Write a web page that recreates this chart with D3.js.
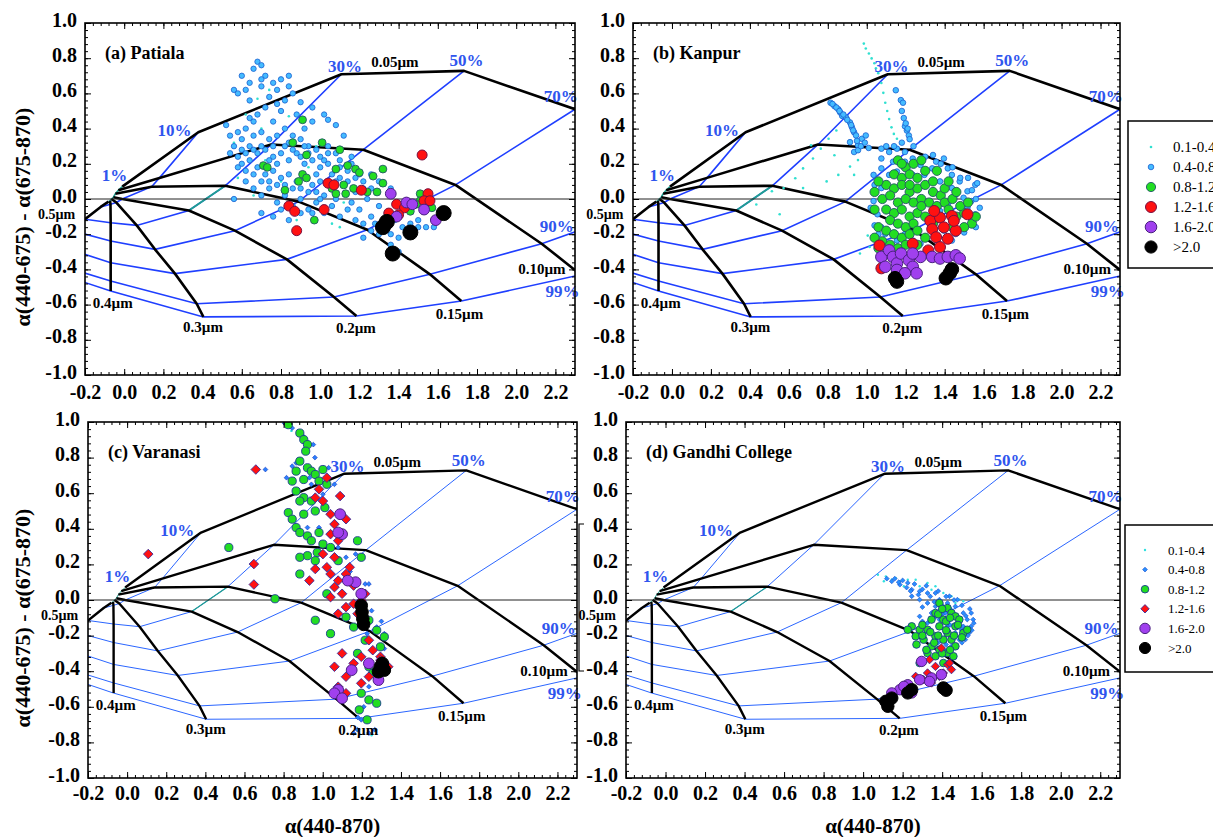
<!DOCTYPE html>
<html>
<head>
<meta charset="utf-8">
<script src="https://cdn.jsdelivr.net/npm/d3@7"></script>
<style>
body { margin: 0; background: #fff; }
</style>
</head>
<body>
<div id="chart"></div>
<script>
// ---- AOD bins (legend) ----
var aodBins = ["0.1-0.4", "0.4-0.8", "0.8-1.2", "1.2-1.6", "1.6-2.0", ">2.0"];

// ---- tick values ----
var xMajor = [-0.2, 0, 0.2, 0.4, 0.6, 0.8, 1.0, 1.2, 1.4, 1.6, 1.8, 2.0, 2.2];
var yMajor = [-1.0, -0.8, -0.6, -0.4, -0.2, 0, 0.2, 0.4, 0.6, 0.8, 1.0];

// ---- classification grid (fine mode radius x fine mode fraction) ----
var radii = ["0.05", "0.10", "0.15", "0.2", "0.3", "0.4", "0.5"];
var fractions = [1, 10, 30, 50, 70, 90, 99];
var gridAlpha = [
  [-0.01, 0.378, 1.108, 1.734, 2.30, 2.90, 3.20],
  [-0.03, 0.18, 0.75, 1.22, 1.69, 2.13, 2.33],
  [-0.045, 0.14, 0.515, 0.89, 1.24, 1.56, 1.72],
  [-0.055, -0.01, 0.33, 0.565, 0.83, 1.07, 1.185],
  [-0.065, -0.04, 0.064, 0.157, 0.259, 0.37, 0.404],
  [-0.072, -0.07, -0.069, -0.069, -0.069, -0.069, -0.069],
  [-0.08, -0.12, -0.2, -0.3, -0.35, -0.38, -0.40]
];
var gridDelta = [
  [0.07, 0.379, 0.709, 0.728, 0.51, 0.05, -0.10],
  [0.05, 0.12, 0.31, 0.28, 0.08, -0.254, -0.43],
  [0.03, 0.07, 0.075, -0.015, -0.175, -0.428, -0.58],
  [0.01, 0.0, -0.065, -0.18, -0.343, -0.557, -0.665],
  [0.0, -0.02, -0.15, -0.286, -0.424, -0.595, -0.67],
  [-0.01, -0.03, -0.135, -0.239, -0.362, -0.466, -0.523],
  [-0.015, -0.045, -0.115, -0.17, -0.26, -0.36, -0.40]
];
var gridLabels = [
  ["1%", -0.115, 0.10, "pct"], ["10%", 0.17, 0.36, "pct"], ["30%", 1.04, 0.72, "pct"],
  ["0.05µm", 1.26, 0.75, "um"], ["50%", 1.66, 0.755, "pct"], ["70%", 2.14, 0.55, "pct"],
  ["90%", 2.12, -0.19, "pct"], ["0.10µm", 2.01, -0.425, "um"], ["99%", 2.15, -0.555, "pct"],
  ["0.15µm", 1.59, -0.68, "um"], ["0.2µm", 1.08, -0.76, "um"], ["0.3µm", 0.30, -0.755, "um"],
  ["0.4µm", -0.16, -0.62, "um"], ["0.5µm", -0.44, -0.115, "um"]
];

// ---- (a) Patiala : [alpha(440-870), d-alpha] ----
var patialaBin1 = [[0.62,0.48],[0.68,0.57],[0.84,0.47],[0.72,0.22],[0.88,-0.12],[1.06,-0.14],[0.58,0.12],[0.66,0.02],[0.98,0.30],[0.74,0.62],[0.56,0.32],[1.12,-0.02],[0.80,0.10],[0.94,0.18],[0.70,0.40],[1.10,-0.16]];
var patialaBin2 = [[0.68,0.78],[0.70,0.76],[0.66,0.74],[0.72,0.70],[0.60,0.70],[0.64,0.66],[0.56,0.62],[0.58,0.60],[0.76,0.66],[0.80,0.68],[0.84,0.64],[0.78,0.62],[0.70,0.64],[0.74,0.58],[0.86,0.60],[0.90,0.55],[0.96,0.52],[1.02,0.48],[1.04,0.45],[0.82,0.56],[0.64,0.56],[0.72,0.52],[0.80,0.50],[0.88,0.48],
  [0.52,0.42],[0.54,0.36],[0.58,0.38],[0.62,0.40],[0.66,0.36],[0.70,0.38],[0.74,0.34],[0.78,0.36],[0.82,0.40],[0.86,0.36],[0.90,0.34],[0.94,0.30],[0.98,0.28],[1.04,0.30],[1.08,0.26],[0.56,0.30],[0.60,0.28],[0.64,0.30],[0.68,0.26],[0.72,0.28],[0.76,0.24],[0.80,0.26],[0.84,0.22],[0.88,0.26],[0.92,0.20],[0.96,0.22],[1.00,0.18],[1.04,0.20],[1.10,0.18],[1.14,0.16],
  [0.60,0.20],[0.64,0.22],[0.68,0.18],[0.72,0.14],[0.76,0.16],[0.80,0.12],[0.84,0.14],[0.88,0.10],[0.92,0.12],[0.96,0.08],[1.00,0.10],[1.06,0.06],[1.12,0.08],[1.18,0.04],[1.22,0.06],[0.62,0.10],[0.66,0.06],[0.70,0.02],[0.74,0.06],[0.78,-0.02],[0.82,0.02],[0.86,-0.04],[0.90,0.00],[0.94,-0.06],[0.98,-0.02],[1.02,-0.08],[1.06,-0.04],[1.10,-0.10],[1.16,-0.02],[1.20,-0.06],[1.24,0.00],
  [0.56,0.00],[0.70,-0.08],[0.84,-0.12],[1.26,-0.10],[1.30,-0.04],[1.34,-0.08],[1.38,-0.12],[1.42,-0.16],[1.46,-0.14],[1.50,-0.16],[1.54,-0.16],[1.58,-0.16],[1.40,-0.22],[1.36,-0.20],[1.32,-0.18],[1.28,-0.14],[1.22,-0.22],[1.18,-0.12],[1.44,-0.06],[1.48,-0.02],[1.52,0.02],[1.56,-0.04],[1.36,0.06],[1.30,0.10],[1.26,0.14],[1.20,0.14],[1.16,0.24],[1.12,0.36],[1.08,0.42],[0.96,0.44],[0.92,0.40],[1.36,-0.26],[1.40,-0.30],
  [0.54,0.26],[0.58,0.24],[0.62,0.26],[0.66,0.28],[0.70,0.30],[0.74,0.22],[0.78,0.20],[0.82,0.30],[0.86,0.28],[0.90,0.24],[0.94,0.26],[0.98,0.14],[1.02,0.22],[1.06,0.14],[1.10,0.12],[1.14,0.10],[1.18,0.12],[1.22,0.10],[1.26,0.06],[0.58,0.18],[0.62,0.16],[0.66,0.14],[0.70,0.10],[0.74,0.10],[0.78,0.08],[0.82,0.08],[0.86,0.06],[0.90,0.06],[0.94,0.04],[0.98,0.04],[1.02,0.02],[1.08,0.00],[1.14,-0.06],[1.22,-0.14],[1.30,-0.20],[1.26,-0.18],[0.64,0.46],[0.68,0.48],[0.76,0.44],[0.78,0.54],[0.62,0.62],[0.70,0.68],[0.84,0.70],[0.66,0.44],[0.60,0.34],[0.76,0.30],[0.84,0.32],[0.92,0.30],[1.00,0.24],[1.04,0.26],[1.10,0.22],[1.16,0.20],[1.08,0.10],[1.00,0.00],[0.96,-0.08],[0.90,-0.08],[0.80,-0.06],[0.76,-0.10],[1.44,-0.18],[1.50,-0.12],[1.58,-0.12]];
var patialaBin3 = [[0.91,0.45],[0.86,0.32],[1.01,0.32],[1.10,0.28],[0.71,0.19],[0.73,0.18],[0.93,0.25],[0.91,0.14],[0.93,0.12],[0.89,0.10],[0.82,0.05],[1.08,0.17],[1.14,0.19],[1.18,0.17],[1.20,0.15],[1.27,0.13],[1.32,0.17],[1.32,0.09],[1.06,0.06],[1.08,0.03],[1.12,0.08],[1.13,0.03],[1.17,0.06],[1.24,0.04],[1.29,0.04],[1.51,0.03],[1.51,-0.01],[1.49,-0.03],[1.57,-0.05],[0.97,-0.12],[1.46,-0.07]];
var patialaBin4 = [[1.52,0.25],[1.04,0.09],[1.07,0.08],[1.21,0.05],[1.55,0.03],[1.39,-0.03],[1.43,-0.05],[1.53,-0.01],[1.56,-0.01],[1.35,-0.08],[1.40,-0.09],[0.84,-0.04],[0.87,-0.07],[1.02,-0.06],[0.88,-0.18]];
var patialaBin5 = [[1.36,0.03],[1.44,-0.02],[1.53,-0.06],[1.39,-0.10],[1.59,-0.12],[1.47,-0.03]];
var patialaBin6 = [[1.63,-0.08],[1.32,-0.16],[1.34,-0.13],[1.46,-0.19],[1.37,-0.31]];

// ---- (b) Kanpur ----
var kanpurBin1 = [[0.985,0.883],[0.995,0.855],[1.011,0.827],[1.025,0.799],[1.039,0.771],[1.047,0.743],[1.059,0.715],[1.075,0.659],[1.085,0.603],[1.095,0.547],[1.105,0.50],[1.115,0.454],[1.127,0.407],[1.139,0.37],[1.155,0.342],[0.573,0.062],[0.633,0.118],[0.673,0.174],[0.724,0.23],[0.764,0.286],[0.804,0.342],[0.844,0.389],[0.553,-0.087],[0.433,-0.031],[0.673,0.062],[0.794,0.10],[0.854,0.137],[0.914,0.184],[0.955,0.221],[0.834,0.249],[0.714,0.305],[1.015,-0.273],[0.965,-0.31],[1.005,-0.208],[0.513,0.044],[0.935,0.137]];
var kanpurBin2 = [[0.814,0.547],[0.834,0.528],[0.854,0.51],[0.864,0.491],[0.874,0.472],[0.894,0.463],[0.914,0.435],[0.924,0.407],[0.935,0.379],[0.945,0.361],[0.914,0.323],[0.955,0.305],[0.975,0.342],[0.995,0.361],[0.935,0.267],[0.955,0.277],[1.149,0.618],[1.175,0.562],[1.186,0.547],[1.196,0.413],[1.206,0.389],[1.216,0.361],[1.075,0.286],[1.115,0.267],[1.155,0.286],[1.196,0.267],[1.236,0.23],[1.075,0.23],[1.135,0.212],[1.196,0.212],[1.276,0.193],[1.356,0.212],[1.396,0.23],[1.416,0.174],[1.437,0.137],[1.477,0.10],[1.557,0.081],[1.517,0.044],[1.497,0.007],[1.537,-0.012],[1.517,-0.049],[1.557,-0.087],[1.537,-0.124],[1.497,-0.161],[1.457,-0.199],[1.035,0.137],[1.075,0.174],[1.115,0.137],[1.155,0.156],[1.236,0.137],[1.296,0.137],[1.336,0.174],[1.376,0.10],[1.437,0.062],[1.457,0.025],[1.416,-0.031],[1.376,-0.068],[1.356,-0.124],[1.396,-0.18],[1.437,-0.236],[1.075,0.062],[1.035,-0.012],[1.055,-0.087],[1.075,-0.161],[1.095,-0.199],[1.155,-0.236],[1.196,-0.199],[1.236,-0.236],[1.276,-0.254],[1.567,0.09],
  [0.824,0.54],[0.844,0.52],[0.86,0.50],[0.88,0.48],[0.90,0.45],[0.92,0.42],[0.93,0.39],[0.95,0.33],[0.97,0.30],[0.99,0.32],[1.01,0.29],[1.18,0.50],[1.19,0.46],[1.20,0.43],[1.21,0.40],[1.22,0.34],[1.24,0.30],[1.18,0.32],[1.14,0.30],[1.10,0.30],[1.30,0.24],[1.34,0.25],[1.38,0.20],[1.44,0.18],[1.48,0.12],[1.52,0.12],[1.54,0.05],[1.56,0.0],[1.58,-0.05],[1.56,-0.16],[1.50,-0.19],[1.04,0.08],[1.02,-0.05],[1.04,-0.15],[1.06,-0.20]];
var kanpurBin3 = [[1.16,0.22],[1.20,0.18],[1.24,0.20],[1.14,0.14],[1.18,0.12],[1.22,0.14],[1.26,0.12],[1.30,0.16],[1.10,0.08],[1.14,0.06],[1.18,0.08],[1.22,0.04],[1.26,0.06],[1.30,0.08],[1.34,0.04],[1.38,0.02],[1.08,0.00],[1.12,0.02],[1.16,-0.02],[1.20,0.00],[1.24,-0.02],[1.28,0.00],[1.32,-0.02],[1.36,-0.04],[1.40,-0.02],[1.44,0.0],[1.10,-0.06],[1.14,-0.08],[1.18,-0.06],[1.22,-0.10],[1.26,-0.08],[1.30,-0.10],[1.42,-0.06],[1.46,-0.10],[1.50,-0.08],[1.54,-0.14],[1.12,-0.12],[1.16,-0.14],[1.20,-0.16],[1.24,-0.14],[1.06,-0.16],[1.10,-0.18],[1.14,-0.20],[1.18,-0.22],[1.22,-0.20],[1.26,-0.18],[1.08,-0.24],[1.12,-0.26],[1.16,-0.28],[1.04,-0.22],[1.20,-0.26],[1.30,-0.22],[1.44,-0.16],[1.50,-0.16],[1.40,0.06],[1.46,0.04],[1.48,-0.04],[1.28,0.22],[1.22,0.08],[1.34,0.10],[1.06,0.10],[1.04,0.04],[1.36,0.16],[1.42,0.10],[1.52,-0.02],[1.56,-0.10],[1.28,-0.04],[1.34,-0.14],[1.04,-0.06],[1.06,-0.28],[1.26,-0.26],[1.18,0.20]];
var kanpurBin4 = [[1.326,-0.124],[1.376,-0.105],[1.437,-0.096],[1.517,-0.087],[1.336,-0.171],[1.396,-0.161],[1.457,-0.18],[1.356,-0.217],[1.416,-0.226],[1.376,-0.273],[1.065,-0.264],[1.075,-0.394],[1.236,-0.254],[1.316,-0.292],[1.447,-0.124],[1.346,-0.068]];
var kanpurBin5 = [[1.075,-0.329],[1.115,-0.292],[1.135,-0.329],[1.155,-0.366],[1.176,-0.31],[1.216,-0.348],[1.236,-0.385],[1.256,-0.422],[1.276,-0.329],[1.336,-0.329],[1.376,-0.338],[1.416,-0.329],[1.457,-0.32],[1.477,-0.338],[1.155,-0.403],[1.196,-0.422],[1.095,-0.385],[1.236,-0.31]];
var kanpurBin6 = [[1.155,-0.469],[1.145,-0.45],[1.426,-0.422],[1.406,-0.45],[1.437,-0.40]];

// ---- (c) Varanasi ----
var varanasiBin1 = [[0.80,1.0],[0.84,0.95],[1.25,-0.76]];
var varanasiBin2 = [[0.805,0.993],[0.844,0.966],[0.707,0.733],[0.864,0.77],[0.952,0.873],[0.932,0.687],[1.001,0.594],[1.079,0.295],[1.119,0.24],[1.178,0.10],[1.217,0.09],[1.236,0.09],[1.187,-0.003],[1.197,-0.059],[1.276,-0.152],[1.315,-0.189],[1.236,-0.487],[1.197,-0.673],[1.178,-0.729],[1.236,-0.748],[1.266,-0.729],[1.158,-0.748],[0.981,0.407],[0.922,0.407],[1.03,0.743],[0.942,0.65],[1.06,0.65],[0.844,0.752],[0.815,0.687],[1.227,-0.189],[1.315,-0.273],[1.168,0.258],[0.90,0.92],[0.96,0.80],[1.02,0.52],[1.10,0.38],[1.14,0.16],[1.25,-0.06],[1.30,-0.12],[1.21,-0.60],[1.18,-0.66]];
var varanasiBin3 = [[0.824,0.985],[0.883,0.938],[0.903,0.901],[0.922,0.873],[0.913,0.836],[0.883,0.78],[0.922,0.743],[0.942,0.724],[0.864,0.724],[1.001,0.733],[0.962,0.705],[0.844,0.668],[0.903,0.677],[0.981,0.668],[1.021,0.65],[0.864,0.612],[0.903,0.575],[0.942,0.556],[0.883,0.556],[0.824,0.491],[0.844,0.454],[0.903,0.482],[0.962,0.50],[1.011,0.519],[0.864,0.407],[0.883,0.379],[0.922,0.36],[0.981,0.379],[0.942,0.333],[1.001,0.314],[0.972,0.267],[0.922,0.249],[0.883,0.24],[0.52,0.295],[0.883,0.146],[1.178,0.333],[1.197,0.24],[0.962,0.221],[1.04,0.295],[1.079,0.221],[1.021,0.035],[0.962,-0.114],[1.04,-0.189],[1.119,-0.096],[1.158,-0.152],[1.236,-0.114],[1.276,-0.17],[1.315,-0.207],[1.217,-0.226],[1.295,-0.263],[1.178,-0.30],[1.236,-0.375],[1.256,-0.412],[1.197,-0.524],[1.236,-0.561],[1.276,-0.58],[1.187,-0.617],[1.227,-0.673],[0.756,0.007]];
var varanasiBin4 = [[0.658,0.733],[1.021,0.687],[1.089,0.584],[0.981,0.622],[1.001,0.556],[0.962,0.575],[1.04,0.482],[1.06,0.426],[1.119,0.454],[1.04,0.37],[1.079,0.333],[1.001,0.258],[1.06,0.24],[1.021,0.184],[0.962,0.174],[0.932,0.109],[1.04,0.146],[1.079,0.109],[1.119,0.146],[1.138,0.184],[1.06,0.072],[1.04,0.016],[1.099,0.035],[1.158,-0.021],[1.119,-0.04],[1.079,-0.077],[1.178,-0.077],[1.197,-0.003],[1.158,0.081],[0.108,0.258],[0.648,0.202],[0.648,0.087],[1.236,-0.226],[1.256,-0.282],[1.197,-0.319],[1.295,-0.319],[1.335,-0.375],[1.158,-0.356],[1.119,-0.431],[1.079,-0.487],[1.119,-0.524],[1.197,-0.468],[1.236,-0.431],[1.276,-0.394],[1.295,-0.338],[1.06,-0.375],[1.099,-0.30],[1.217,0.035]];
var varanasiBin5 = [[1.089,0.482],[1.099,0.37],[1.079,0.379],[1.168,0.10],[1.128,0.109],[1.197,0.035],[1.148,-0.394],[1.079,-0.505],[1.06,-0.524],[1.099,-0.552],[1.285,-0.45],[1.236,-0.356]];
var varanasiBin6 = [[1.197,-0.031],[1.201,-0.068],[1.205,-0.105],[1.209,-0.137],[1.295,-0.375],[1.315,-0.394],[1.285,-0.403],[1.305,-0.356]];

// ---- (d) Gandhi College ----
var gandhiBin1 = [[1.075,0.142],[1.115,0.133],[1.145,0.114],[1.186,0.105],[1.226,0.114],[1.266,0.114],[1.165,0.124],[1.105,0.105],[1.206,0.077],[1.286,0.077],[1.346,0.058],[1.406,0.039],[1.447,0.021],[1.487,0.002],[1.507,-0.007],[1.467,-0.017],[1.326,0.096],[1.366,0.077]];
var gandhiBin2 = [[1.145,0.105],[1.186,0.086],[1.226,0.096],[1.246,0.058],[1.286,0.049],[1.326,0.039],[1.366,0.039],[1.386,0.002],[1.427,-0.017],[1.467,-0.036],[1.507,-0.073],[1.527,-0.11],[1.547,-0.148],[1.537,-0.185],[1.517,-0.223],[1.497,-0.167],[1.457,-0.092],[1.416,-0.073],[1.366,-0.036],[1.326,-0.017],[1.286,0.002],[1.246,0.021],[1.346,-0.073],[1.386,-0.11],[1.427,-0.148],[1.467,-0.185],[1.487,-0.223],[1.447,-0.26],[1.406,-0.279],[1.326,-0.129],[1.286,-0.092],[1.547,-0.073],[1.557,-0.11],[1.507,-0.148],[1.477,0.002],[1.437,0.021],
  [1.18,0.10],[1.22,0.07],[1.26,0.09],[1.30,0.06],[1.34,0.02],[1.38,0.05],[1.42,0.02],[1.46,0.0],[1.50,-0.03],[1.54,-0.05],[1.56,-0.13],[1.55,-0.17],[1.53,-0.20],[1.50,-0.24],[1.46,-0.21],[1.48,-0.12],[1.44,-0.05],[1.40,-0.03],[1.36,-0.01],[1.30,-0.04],[1.28,0.03],[1.24,0.05],[1.32,0.08],[1.40,-0.08],[1.52,-0.09],[1.50,-0.18],[1.44,-0.14],[1.36,-0.10],[1.30,-0.12],[1.42,-0.25],[1.38,-0.24],[1.20,0.11],[1.16,0.12],[1.12,0.12]];
var gandhiBin3 = [[1.386,-0.017],[1.427,-0.045],[1.447,-0.073],[1.467,-0.092],[1.366,-0.073],[1.406,-0.11],[1.346,-0.11],[1.386,-0.148],[1.427,-0.185],[1.467,-0.148],[1.487,-0.11],[1.326,-0.167],[1.366,-0.204],[1.406,-0.223],[1.447,-0.223],[1.306,-0.223],[1.346,-0.26],[1.386,-0.279],[1.427,-0.298],[1.467,-0.26],[1.286,-0.167],[1.246,-0.148],[1.226,-0.167],[1.266,-0.204],[1.326,-0.298],[1.366,-0.316],[1.406,-0.354],[1.286,-0.354],[1.507,-0.185],[1.527,-0.167],[1.457,-0.316],
  [1.30,-0.14],[1.34,-0.18],[1.38,-0.20],[1.42,-0.17],[1.46,-0.20],[1.48,-0.14],[1.42,-0.12],[1.38,-0.08],[1.40,-0.05],[1.44,-0.10],[1.36,-0.24],[1.32,-0.28],[1.40,-0.30],[1.44,-0.28],[1.50,-0.21],[1.30,-0.20],[1.27,-0.25]];
var gandhiBin4 = [[1.336,-0.335],[1.396,-0.27],[1.366,-0.373],[1.427,-0.363],[1.447,-0.391],[1.406,-0.41],[1.326,-0.41],[1.266,-0.429],[1.306,-0.448],[1.346,-0.466],[1.386,-0.429],[1.437,-0.354]];
var gandhiBin5 = [[1.296,-0.345],[1.346,-0.438],[1.396,-0.419],[1.336,-0.457],[1.286,-0.448],[1.226,-0.476],[1.186,-0.504],[1.145,-0.522],[1.246,-0.522],[1.206,-0.485]];
var gandhiBin6 = [[1.115,-0.569],[1.125,-0.597],[1.145,-0.551],[1.226,-0.522],[1.246,-0.504],[1.406,-0.494],[1.42,-0.507]];

// ---- marker styles ----
var stylesA = [
  {shape:"circle", r:1.3, fill:"#30e0d0", stroke:"none", sw:0},
  {shape:"circle", r:2.7, fill:"#44bbff", stroke:"#1a5fd0", sw:0.8},
  {shape:"circle", r:3.9, fill:"#22dd22", stroke:"#225566", sw:0.9},
  {shape:"circle", r:5, fill:"#ff1111", stroke:"#7a1040", sw:1},
  {shape:"circle", r:5.4, fill:"#a040ee", stroke:"#4a2080", sw:1},
  {shape:"circle", r:7.5, fill:"#000", stroke:"#000", sw:1}
];
var stylesB = [
  {shape:"circle", r:1.3, fill:"#30e0d0", stroke:"none", sw:0},
  {shape:"circle", r:2.8, fill:"#44bbff", stroke:"#1a5fd0", sw:0.8},
  {shape:"circle", r:4.6, fill:"#22dd22", stroke:"#225566", sw:0.9},
  {shape:"circle", r:5.5, fill:"#ff1111", stroke:"#7a1040", sw:1},
  {shape:"circle", r:5.8, fill:"#a040ee", stroke:"#4a2080", sw:1},
  {shape:"circle", r:6.8, fill:"#000", stroke:"#000", sw:1}
];
var stylesC = [
  {shape:"circle", r:1.2, fill:"#30e0e0", stroke:"none", sw:0},
  {shape:"diamond", r:2.4, fill:"#2a7fff", stroke:"#1a40c0", sw:0.6},
  {shape:"circle", r:4.1, fill:"#22dd22", stroke:"#1a3a90", sw:0.9},
  {shape:"diamond", r:4.8, fill:"#ff1111", stroke:"#2a2aa0", sw:0.8},
  {shape:"circle", r:5.4, fill:"#a040ee", stroke:"#4a2080", sw:1},
  {shape:"circle", r:6.3, fill:"#000", stroke:"#000", sw:1}
];
var stylesD = [
  {shape:"circle", r:1.2, fill:"#30e0e0", stroke:"none", sw:0},
  {shape:"diamond", r:2.4, fill:"#2a8fff", stroke:"#1a50d0", sw:0.6},
  {shape:"circle", r:3.8, fill:"#22dd22", stroke:"#1a3a90", sw:0.9},
  {shape:"diamond", r:4.2, fill:"#ff1111", stroke:"#2a2aa0", sw:0.8},
  {shape:"circle", r:5.2, fill:"#a040ee", stroke:"#4a2080", sw:1},
  {shape:"circle", r:6.2, fill:"#000", stroke:"#000", sw:1}
];

var panels = [
  {key:"a", title:"(a) Patiala", bins:[patialaBin1,patialaBin2,patialaBin3,patialaBin4,patialaBin5,patialaBin6],
   box:[85,575,23,375], styles:stylesA, heavy:true, ytitle:true, xtitle:false, padX:10},
  {key:"b", title:"(b) Kanpur", bins:[kanpurBin1,kanpurBin2,kanpurBin3,kanpurBin4,kanpurBin5,kanpurBin6],
   box:[633,1120,23,375], styles:stylesB, heavy:true, ytitle:false, xtitle:false, padX:10,
   legend:{x:1128, y:121, w:100, h:147, row0:147, step:20, mx:1151, tx:1173, fs:15}},
  {key:"c", title:"(c) Varanasi", bins:[varanasiBin1,varanasiBin2,varanasiBin3,varanasiBin4,varanasiBin5,varanasiBin6],
   box:[88,577,422,778], styles:stylesC, heavy:false, ytitle:true, xtitle:true, padX:8},
  {key:"d", title:"(d) Gandhi College", bins:[gandhiBin1,gandhiBin2,gandhiBin3,gandhiBin4,gandhiBin5,gandhiBin6],
   box:[626,1120,422,778], styles:stylesD, heavy:false, ytitle:false, xtitle:true, padX:8,
   legend:{x:1125, y:525, w:100, h:147, row0:550, step:19.6, mx:1145, tx:1168, fs:13}}
];

var serif = "'Liberation Serif', 'DejaVu Serif', serif";
var W = 1213, H = 837;

var svg = d3.select("#chart").append("svg")
  .attr("width", W).attr("height", H)
  .style("display", "block");

svg.append("rect").attr("width", W).attr("height", H).attr("fill", "#fff");

function symbolPath(st, scale) {
  var r = st.r * (scale || 1);
  if (st.shape == "diamond") {
    return d3.symbol().type(d3.symbolSquare).size(2 * r * r)();
  }
  return d3.symbol().type(d3.symbolCircle).size(Math.PI * r * r)();
}

var xMinor = d3.range(63).map(i => -0.2 + i * 0.04);
var yMinor = d3.range(51).map(i => -1 + i * 0.04);

panels.forEach(function (p) {
  var x0 = p.box[0], x1 = p.box[1], y0 = p.box[2], y1 = p.box[3];
  var x = d3.scaleLinear().domain([-0.2, 2.3]).range([x0, x1]);
  var y = d3.scaleLinear().domain([-1, 1]).range([y1, y0]);

  var g = svg.append("g");

  g.append("clipPath").attr("id", "clip-" + p.key)
    .append("rect").attr("x", x0).attr("y", y0).attr("width", x1 - x0).attr("height", y1 - y0);

  var plot = g.append("g").attr("clip-path", "url(#clip-" + p.key + ")");

  var line = d3.line().x(d => x(d[0])).y(d => y(d[1]));

  // constant fraction lines (blue)
  var blueCol = p.heavy ? "#1f3fff" : "#2b66ff";
  var blueW = p.heavy ? 1.6 : 1.0;
  fractions.forEach(function (f, k) {
    var pts = radii.map((r, i) => [gridAlpha[i][k], gridDelta[i][k]]);
    plot.append("path").attr("d", line(pts))
      .attr("fill", "none")
      .attr("stroke", k == 0 ? "#20a090" : blueCol)
      .attr("stroke-width", blueW);
  });
  // teal piece of the 30% line
  plot.append("path")
    .attr("d", line([[gridAlpha[2][2], gridDelta[2][2]], [gridAlpha[3][2], gridDelta[3][2]]]))
    .attr("fill", "none").attr("stroke", "#20a090").attr("stroke-width", blueW + 0.2);

  // constant radius lines (black)
  radii.forEach(function (r, i) {
    var pts = fractions.map((f, k) => [gridAlpha[i][k], gridDelta[i][k]]);
    plot.append("path").attr("d", line(pts))
      .attr("fill", "none").attr("stroke", "#000")
      .attr("stroke-width", p.heavy ? 2.6 : 2.4)
      .attr("stroke-linejoin", "round");
  });

  // zero line
  plot.append("line")
    .attr("x1", x0).attr("x2", x1).attr("y1", y(0)).attr("y2", y(0))
    .attr("stroke", "#222").attr("stroke-width", 1);

  // points
  p.bins.forEach(function (bin, b) {
    var st = p.styles[b];
    plot.selectAll(null)
      .data(bin)
      .enter()
      .append("path")
      .attr("d", symbolPath(st))
      .attr("transform", d => "translate(" + x(d[0]) + "," + y(d[1]) + ")" + (st.shape == "diamond" ? " rotate(45)" : ""))
      .attr("fill", st.fill)
      .attr("stroke", st.stroke)
      .attr("stroke-width", st.sw);
  });

  // grid labels
  gridLabels.forEach(function (l) {
    g.append("text")
      .text(l[0])
      .attr("x", x(l[1]))
      .attr("y", y(l[2]))
      .attr("font-family", serif)
      .attr("font-weight", "bold")
      .attr("font-size", l[3] == "pct" ? 17 : (l[0] == "0.5µm" ? 14 : 15))
      .attr("fill", l[3] == "pct" ? "#2f55ee" : "#000");
  });

  // axes
  function styleAxis(a) {
    a.select(".domain").remove();
    a.selectAll("line").attr("stroke", "#000").attr("stroke-width", 1);
    a.selectAll("text")
      .attr("font-family", serif)
      .attr("font-weight", "bold")
      .attr("font-size", 20)
      .attr("fill", "#000");
  }
  var fmt = d => d.toFixed(1);

  g.append("g").attr("transform", "translate(0," + y1 + ")")
    .call(d3.axisBottom(x).tickValues(xMajor).tickSize(-6).tickPadding(p.padX).tickFormat(fmt))
    .call(styleAxis);
  g.append("g").attr("transform", "translate(0," + y1 + ")")
    .call(d3.axisBottom(x).tickValues(xMinor).tickSize(-3).tickFormat(""))
    .call(styleAxis);
  g.append("g").attr("transform", "translate(0," + y0 + ")")
    .call(d3.axisTop(x).tickValues(xMajor).tickSize(-6).tickFormat(""))
    .call(styleAxis);
  g.append("g").attr("transform", "translate(0," + y0 + ")")
    .call(d3.axisTop(x).tickValues(xMinor).tickSize(-3).tickFormat(""))
    .call(styleAxis);

  var left = g.append("g").attr("transform", "translate(" + x0 + ",0)")
    .call(d3.axisLeft(y).tickValues(yMajor).tickSize(-6).tickPadding(8).tickFormat(fmt))
    .call(styleAxis);
  left.selectAll("text").attr("dy", "0.15em");
  g.append("g").attr("transform", "translate(" + x0 + ",0)")
    .call(d3.axisLeft(y).tickValues(yMinor).tickSize(-3).tickFormat(""))
    .call(styleAxis);
  g.append("g").attr("transform", "translate(" + x1 + ",0)")
    .call(d3.axisRight(y).tickValues(yMajor).tickSize(-6).tickFormat(""))
    .call(styleAxis);
  g.append("g").attr("transform", "translate(" + x1 + ",0)")
    .call(d3.axisRight(y).tickValues(yMinor).tickSize(-3).tickFormat(""))
    .call(styleAxis);

  // frame
  g.append("rect")
    .attr("x", x0).attr("y", y0).attr("width", x1 - x0).attr("height", y1 - y0)
    .attr("fill", "none").attr("stroke", "#000").attr("stroke-width", 1.6);

  // panel title
  g.append("text")
    .text(p.title)
    .attr("x", x0 + 20)
    .attr("y", y0 + 36)
    .attr("font-family", serif)
    .attr("font-weight", "bold")
    .attr("font-size", 18)
    .attr("fill", "#000");

  if (p.ytitle) {
    g.append("text")
      .text("α(440-675) - α(675-870)")
      .attr("transform", "translate(22," + ((y0 + y1) / 2 + 18) + ") rotate(-90)")
      .attr("text-anchor", "middle")
      .attr("dy", "0.35em")
      .attr("font-family", serif)
      .attr("font-weight", "bold")
      .attr("font-size", 22)
      .attr("fill", "#000");
  }
  if (p.xtitle) {
    g.append("text")
      .text("α(440-870)")
      .attr("x", (x0 + x1) / 2)
      .attr("y", 833)
      .attr("text-anchor", "middle")
      .attr("font-family", serif)
      .attr("font-weight", "bold")
      .attr("font-size", 21)
      .attr("fill", "#000");
  }

  if (p.legend) {
    var L = p.legend;
    var lg = svg.append("g");
    lg.append("rect")
      .attr("x", L.x).attr("y", L.y).attr("width", L.w).attr("height", L.h)
      .attr("fill", "#fff").attr("stroke", "#000").attr("stroke-width", 1.5);
    aodBins.forEach(function (name, b) {
      var st = p.styles[b];
      var ry = L.row0 + b * L.step;
      lg.append("path")
        .attr("d", symbolPath(st, b == 5 ? 0.9 : 1))
        .attr("transform", "translate(" + L.mx + "," + ry + ")" + (st.shape == "diamond" ? " rotate(45)" : ""))
        .attr("fill", st.fill).attr("stroke", st.stroke).attr("stroke-width", st.sw);
      lg.append("text")
        .text(name)
        .attr("x", L.tx).attr("y", ry)
        .attr("dy", "0.35em")
        .attr("font-family", serif)
        .attr("font-size", L.fs)
        .attr("fill", "#000");
    });
  }
});

// stray frame piece at the right of panel (c)
svg.append("path")
  .attr("d", "M584,524 H579 V671 H584")
  .attr("fill", "none").attr("stroke", "#000").attr("stroke-width", 1.2);
</script>
</body>
</html>
